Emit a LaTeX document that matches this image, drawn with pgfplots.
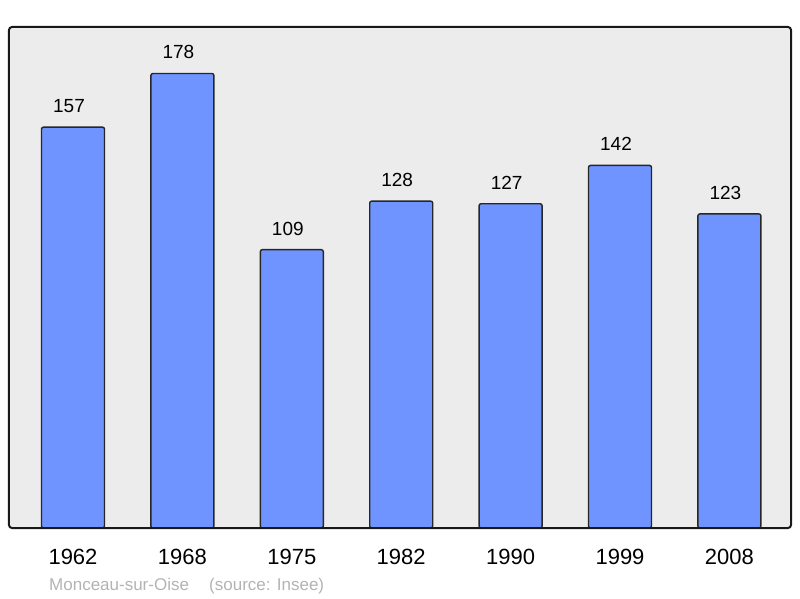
\documentclass[border=0pt]{standalone}
\usepackage{fontspec}
\setmainfont{Liberation Sans}
\usepackage{pgfplots}
\pgfplotsset{compat=1.18}
\definecolor{bgray}{HTML}{ECECEC}
\definecolor{barblue}{HTML}{7094FF}
\definecolor{srcgray}{HTML}{B3B3B3}

\begin{document}
\begin{tikzpicture}
\useasboundingbox (0,0) rectangle (800pt,598pt);
\begin{axis}[
  at={(9pt,70pt)}, anchor=south west,
  scale only axis, width=782pt, height=501pt,
  xmin=-0.585, xmax=6.563, ymin=0, ymax=196.2,
  axis line style={draw=none}, major tick length=0pt,
  /pgf/number format/assume math mode=true,
  ybar, bar width=63pt, bar shift=0pt,
  xtick={0,...,6},
  xticklabels={1962,1968,1975,1982,1990,1999,2008},
  xticklabel style={anchor=base, inner sep=0pt, yshift=-36pt,
    font=\fontsize{22}{22}\selectfont},
  ytick=\empty,
  nodes near coords,
  every node near coord/.append style={font=\fontsize{19}{19}\selectfont,
    anchor=base, inner sep=0pt, yshift=14.5pt, xshift=-4pt, text=black},
  clip=false,
]
\fill[bgray, rounded corners=3pt] (rel axis cs:0,0) rectangle (rel axis cs:1,1);
\addplot[fill=barblue, draw=black!85, line width=1.4pt, rounded corners=2pt]
  coordinates {(0,157) (1,178) (2,109) (3,128) (4,127) (5,142) (6,123)};
\draw[black!90, line width=2pt, rounded corners=3pt] (rel axis cs:0,0) rectangle (rel axis cs:1,1);
\end{axis}
\node[anchor=base west, inner sep=0pt, text=srcgray, font=\fontsize{17}{17}\selectfont]
  at (49pt,8pt) {Monceau-sur-Oise};
\node[anchor=base west, inner sep=0pt, text=srcgray, font=\fontsize{17}{17}\selectfont]
  at (209pt,8pt) {(source: Insee)};
\end{tikzpicture}
\end{document}
